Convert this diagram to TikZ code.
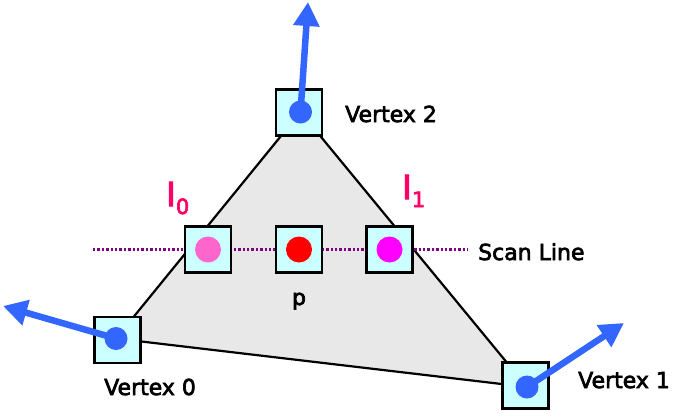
\documentclass[tikz,border=0pt]{standalone}
\usepackage{fontspec}
\setmainfont{DejaVu Sans}[FakeBold=3]
\usetikzlibrary{arrows.meta}
\definecolor{boxfill}{HTML}{CCFFFF}
\definecolor{trifill}{HTML}{E8E8E8}
\definecolor{vblue}{HTML}{3366FF}
\definecolor{izero}{HTML}{FF66CC}
\definecolor{pred}{HTML}{FF0000}
\definecolor{ione}{HTML}{FF00FF}
\definecolor{scanpurple}{HTML}{800080}
\definecolor{ilabel}{HTML}{FF0066}
\tikzset{
  sqbox/.style={draw=black, line width=2.3pt, fill=boxfill, minimum size=46pt, inner sep=0pt},
  bigdot/.style={circle, fill=#1, minimum size=26pt, inner sep=0pt},
  vdot/.style={circle, fill=vblue, minimum size=23pt, inner sep=0pt},
  velarrow/.style={vblue, line width=6.5pt, -{Triangle[length=24pt,width=25pt]}},
  lbl/.style={font=\fontsize{22}{26}\selectfont, inner sep=0pt},
  ilbl/.style={text=ilabel, inner sep=0pt, anchor=base west}
}
\begin{document}
\begin{tikzpicture}[x=1pt,y=-1pt]
\useasboundingbox (0,0) rectangle (677,416);
% vertex dot centres
\coordinate (v2c) at (300.5,112);
\coordinate (v0c) at (116,338.5);
\coordinate (v1c) at (527,387);
% triangle
\draw[fill=trifill, line width=2.2pt, line join=miter] (v2c) -- (v1c) -- (v0c) -- cycle;
% scan line
\coordinate (sl0) at (93,249.5);
\coordinate (sl1) at (468,249.5);
\draw[scanpurple, line width=2.5pt, dash pattern=on 2.4pt off 2pt] (sl0) -- (sl1);
% boxes
\node[sqbox] (b2) at (299,112.5) {};
\node[sqbox] (b0) at (117.5,340) {};
\node[sqbox] (b1) at (525.5,385.5) {};
\node[sqbox] (bi0) at (208,249.5) {};
\node[sqbox] (bp) at (299,249.5) {};
\node[sqbox] (bi1) at (389.5,249.5) {};
% dots
\node[vdot] (d2) at (v2c) {};
\node[vdot] (d0) at (v0c) {};
\node[vdot] (d1) at (v1c) {};
\node[bigdot=izero] (di0) at (bi0) {};
\node[bigdot=pred] (dp) at (bp) {};
\node[bigdot=ione] (di1) at (bi1) {};
% velocity arrows
\coordinate (t2) at (308,2);
\coordinate (t0) at (3,306);
\coordinate (t1) at (624,323);
\draw[velarrow] (d2.center) -- (t2);
\draw[velarrow] (d0.center) -- (t0);
\draw[velarrow] (d1.center) -- (t1);
% labels
\node[lbl, anchor=base west] (l2) at (345,122) {Vertex 2};
\node[lbl, anchor=base west] (l0) at (104,395) {Vertex 0};
\node[lbl, anchor=base west] (l1) at (578,388) {Vertex 1};
\node[lbl, anchor=base west] (ls) at (478,260) {Scan Line};
\node[lbl, anchor=base] (lp) at (299,305) {p};
\node[ilbl] (li0) at (166,206) {\fontsize{33}{33}\selectfont I\raisebox{-8pt}{\fontsize{21}{21}\selectfont 0}};
\node[ilbl] (li1) at (402,199) {\fontsize{33}{33}\selectfont I\raisebox{-8pt}{\fontsize{21}{21}\selectfont 1}};
\end{tikzpicture}
\end{document}
